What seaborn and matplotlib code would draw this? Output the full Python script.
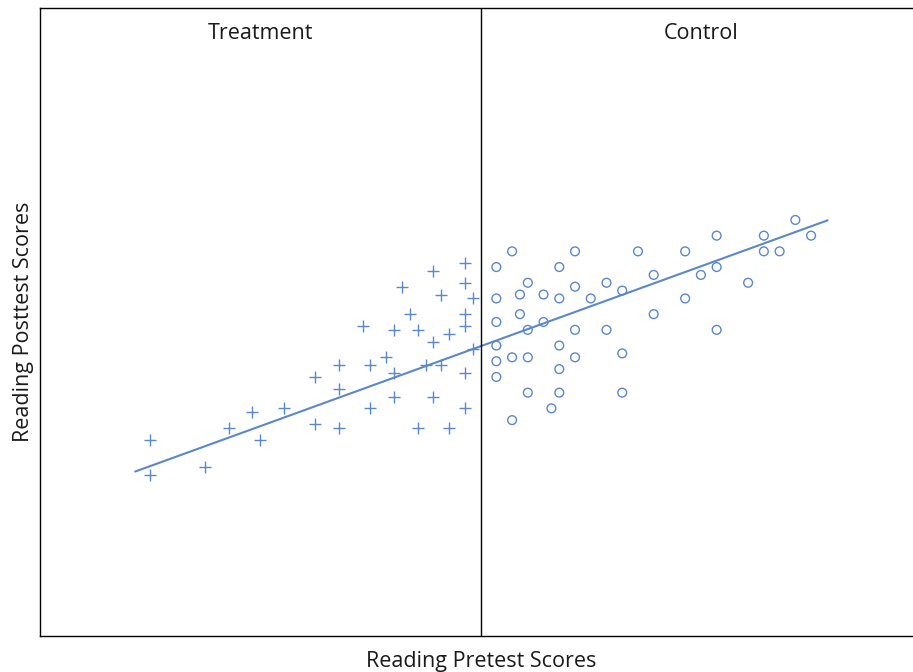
import matplotlib
matplotlib.use("Agg")
import matplotlib.pyplot as plt
import seaborn as sns
import pandas as pd

# Puntos del grupo de tratamiento (pretest, posttest)
treat_pre = [30, 30, 37, 40, 43, 44, 47, 51, 51, 54, 54, 54, 57, 58, 58, 60,
             61, 61, 61, 62, 63, 64, 64, 65, 66, 66, 66, 67, 67, 68, 68,
             70, 70, 70, 70, 70, 70, 71, 71]
treat_post = [50, 41, 43, 53, 57, 50, 58, 66, 54, 69, 63, 53, 79, 69, 58, 71,
              78, 67, 61, 89, 82, 78, 53, 69, 93, 75, 61, 87, 69, 77, 53,
              95, 90, 82, 79, 67, 58, 86, 73]

# Puntos del grupo control
ctrl_pre = [74, 74, 74, 74, 74, 74, 76, 76, 76, 77, 77, 78, 78, 78, 78, 80,
            80, 81, 82, 82, 82, 82, 82, 84, 84, 84, 84, 86, 88, 88, 90, 90,
            90, 92, 94, 94, 98, 98, 100, 102, 102, 102, 106, 108, 108, 110,
            112, 114]
ctrl_post = [94, 86, 80, 74, 70, 66, 98, 71, 55, 87, 82, 90, 78, 71, 62, 87,
             80, 58, 94, 86, 74, 68, 62, 98, 89, 78, 71, 86, 90, 78, 88, 72,
             62, 98, 92, 82, 98, 86, 92, 102, 94, 78, 90, 102, 98, 98,
             106, 102]

# Recta ajustada y punto de corte
fit_pre = [28.1, 116.1]
fit_post = [41.9, 105.9]
cutoff = 72
group_names = ["Treatment", "Control"]

df_t = pd.DataFrame({"pre": treat_pre, "post": treat_post})
df_c = pd.DataFrame({"pre": ctrl_pre, "post": ctrl_post})

sns.set_style("white")
plt.rcParams["font.family"] = ["Open Sans", "DejaVu Sans"]

azul = "#5b87cc"
negro = "#1a1a1a"

fig = plt.figure(figsize=(9.13, 6.72), dpi=100)
ax = fig.add_axes([40 / 913, 36 / 672, 882 / 913, 628 / 672])

sns.scatterplot(data=df_t, x="pre", y="post", marker="+", s=64,
                color=azul, linewidth=1.0, ax=ax)
sns.scatterplot(data=df_c, x="pre", y="post", marker="o", s=40,
                facecolors="none", edgecolor=azul, linewidth=1.0, ax=ax)
sns.lineplot(x=fit_pre, y=fit_post, color=azul, linewidth=1.5, ax=ax)
ax.axvline(cutoff, color="black", linewidth=1.0)

ax.set_xlim(16, 128.1)
ax.set_ylim(0, 160)
ax.set_xticks([])
ax.set_yticks([])

for s in ax.spines.values():
    s.set_color("black")
    s.set_linewidth(1.0)

ax.text(0.25, 0.9586, group_names[0], transform=ax.transAxes,
        ha="center", va="center", fontsize=15.5, color=negro)
ax.text(0.75, 0.9586, group_names[1], transform=ax.transAxes,
        ha="center", va="center", fontsize=15.5, color=negro)

ax.set_xlabel("Reading Pretest Scores", fontsize=15.5, labelpad=11, color=negro)
ax.set_ylabel("Reading Posttest Scores", fontsize=15.5, labelpad=4, color=negro)

fig.savefig("out.png", dpi=100)
